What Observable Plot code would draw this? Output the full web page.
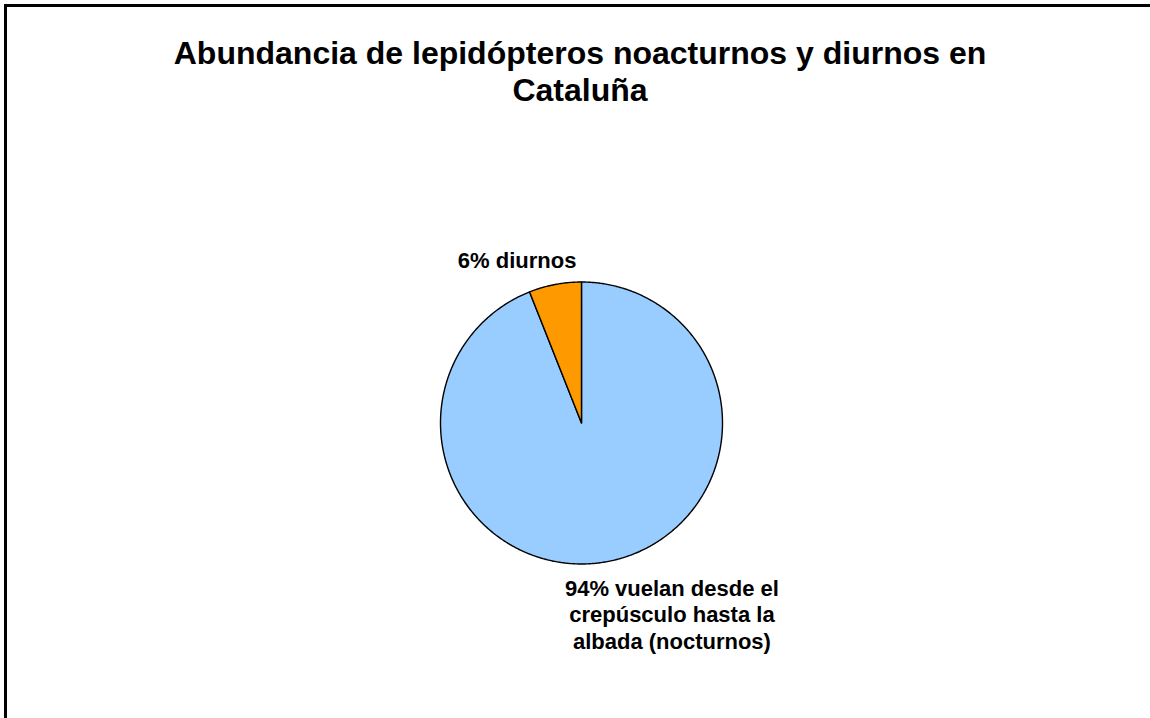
<!DOCTYPE html>
<html><head><meta charset="utf-8">
<script src="https://cdn.jsdelivr.net/npm/d3@7"></script>
<script src="https://cdn.jsdelivr.net/npm/@observablehq/plot@0.6"></script>
<style>
html,body{margin:0;padding:0;background:#fff;overflow:hidden}
#wrap{position:relative;width:1150px;height:718px;overflow:hidden;font-family:"Liberation Sans",Arial,sans-serif;background:#fff}
#frame{position:absolute;left:4px;top:4px;width:1300px;height:900px;border-left:3.5px solid #000;border-top:3.5px solid #000}
#title{position:absolute;left:0;width:1160px;top:35px;text-align:center;font-weight:bold;font-size:32px;line-height:37px;color:#000}
#chart{position:absolute;left:0;top:0}
</style></head><body>
<div id="wrap"><div id="frame"></div><div id="title"></div><div id="chart"></div></div>
<script>
// ---- data ----
const titleLines = ["Abundancia de lepidópteros noacturnos y diurnos en", "Cataluña"];
const categories = ["nocturnos", "diurnos"];
const values = [94, 6];
const labels = ["94% vuelan desde el\ncrepúsculo hasta la\nalbada (nocturnos)", "6% diurnos"];
const colors = ["#99CCFF", "#FF9900"];

// ---- title ----
document.getElementById("title").innerHTML = titleLines.map(s => `<div>${s}</div>`).join("");

// ---- pie geometry (unit circle, y up, clockwise from 12 o'clock) ----
const table = categories.map((c, i) => ({category: c, value: values[i], label: labels[i]}));
const arcs = d3.pie().sort(null).value(d => d.value).startAngle(0).endAngle(2 * Math.PI)(table);
const pts = [];
for (const a of arcs) {
  const c = a.data.category;
  pts.push({category: c, x: 0, y: 0});
  const n = Math.max(2, Math.ceil((a.endAngle - a.startAngle) / (Math.PI / 360)));
  for (let k = 0; k <= n; k++) {
    const t = a.startAngle + (a.endAngle - a.startAngle) * k / n;
    pts.push({category: c, x: Math.sin(t), y: Math.cos(t)});
  }
  pts.push({category: c, x: 0, y: 0});
}
const anchors = arcs.map(a => {
  const m = (a.startAngle + a.endAngle) / 2;
  return {category: a.data.category, label: a.data.label, x: Math.sin(m), y: Math.cos(m)};
});

const cx = 581, cy = 422.5, r = 141;
const chart = Plot.plot({
  width: 1150,
  height: 718,
  margin: 0,
  style: {background: "transparent", fontFamily: "'Liberation Sans', Arial, sans-serif"},
  x: {domain: [-1, 1], range: [cx - r, cx + r], axis: null},
  y: {domain: [-1, 1], range: [cy + r, cy - r], axis: null},
  color: {domain: categories, range: colors},
  marks: [
    Plot.line(pts, {x: "x", y: "y", z: "category", fill: "category", stroke: "#000", strokeWidth: 1.4, curve: "linear", strokeLinejoin: "round"}),
    Plot.text(anchors.filter(d => d.category === "diurnos"), {
      x: "x", y: "y", text: "label", textAnchor: "middle", lineAnchor: "bottom",
      dx: -38, dy: -16, fontSize: 22, fontWeight: "bold", fill: "#000"
    }),
    Plot.text(anchors.filter(d => d.category === "nocturnos"), {
      x: "x", y: "y", text: "label", textAnchor: "middle", lineAnchor: "top", lineHeight: 1.2,
      dx: 64, dy: 15.5, fontSize: 22, fontWeight: "bold", fill: "#000"
    })
  ]
});
document.getElementById("chart").appendChild(chart);
</script>
</body></html>
